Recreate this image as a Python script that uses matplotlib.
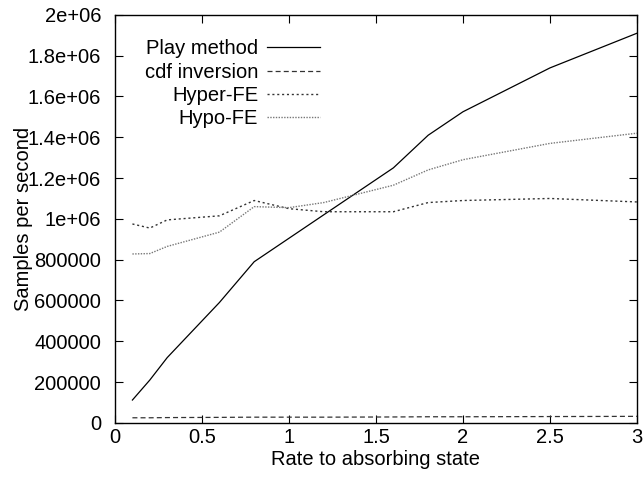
import numpy as np
import matplotlib
matplotlib.use("Agg")
import matplotlib.pyplot as plt
from matplotlib.ticker import FormatStrFormatter, MultipleLocator

plt.rcParams['font.family'] = ['Liberation Sans', 'DejaVu Sans']

# rate to absorbing state
rate = [0.1, 0.2, 0.3, 0.6, 0.8, 1.0, 1.2, 1.6, 1.8, 2.0, 2.5, 3.0]

# samples per second
play = [112000, 210000, 320000, 590000, 790000, 905000, 1020000, 1250000,
        1410000, 1525000, 1740000, 1910000]
cdf = [25000, 25000, 26000, 27000, 28000, 28000, 28000, 29000,
       30000, 30000, 31000, 32000]
hyper = [975000, 955000, 995000, 1015000, 1090000, 1050000, 1035000, 1035000,
         1080000, 1090000, 1100000, 1083000]
hypo = [828000, 830000, 865000, 935000, 1060000, 1055000, 1080000, 1165000,
        1240000, 1290000, 1370000, 1420000]

fig = plt.figure(figsize=(6.44, 4.8), dpi=100)
ax = fig.add_axes([0.1786, 0.119, 0.8104, 0.850])

ax.plot(rate, play, color='black', lw=0.9, label='Play method')
ax.plot(rate, cdf, color='#333333', lw=0.9, dashes=(4, 2.5), label='cdf inversion')
ax.plot(rate, hyper, color='#333333', lw=1.0, dashes=(1.5, 2), label='Hyper-FE')
ax.plot(rate, hypo, color='#777777', lw=1.0, dashes=(1, 1), label='Hypo-FE')

ax.set_xlim(0, 3)
ax.set_ylim(0, 2e6)
ax.xaxis.set_major_locator(MultipleLocator(0.5))
ax.yaxis.set_major_locator(MultipleLocator(200000))
ax.xaxis.set_major_formatter(FormatStrFormatter('%g'))
ax.yaxis.set_major_formatter(FormatStrFormatter('%g'))
ax.tick_params(direction='in', length=6, width=0.8, top=True, right=True,
               labelsize=14.5)
ax.tick_params(axis='x', pad=4)
ax.tick_params(axis='y', pad=10)
for s in ax.spines.values():
    s.set_linewidth(1.0)

ax.set_xlabel('Rate to absorbing state', fontsize=14.5, labelpad=2)
ax.set_ylabel('Samples per second', fontsize=14.5, labelpad=-4)

leg = ax.legend(loc='upper left', bbox_to_anchor=(0.03, 0.975), frameon=False,
                markerfirst=False, fontsize=14.5, handlelength=2.6,
                handletextpad=0.45, labelspacing=0.22, borderaxespad=0.3)

fig.savefig('out.png', dpi=100)
